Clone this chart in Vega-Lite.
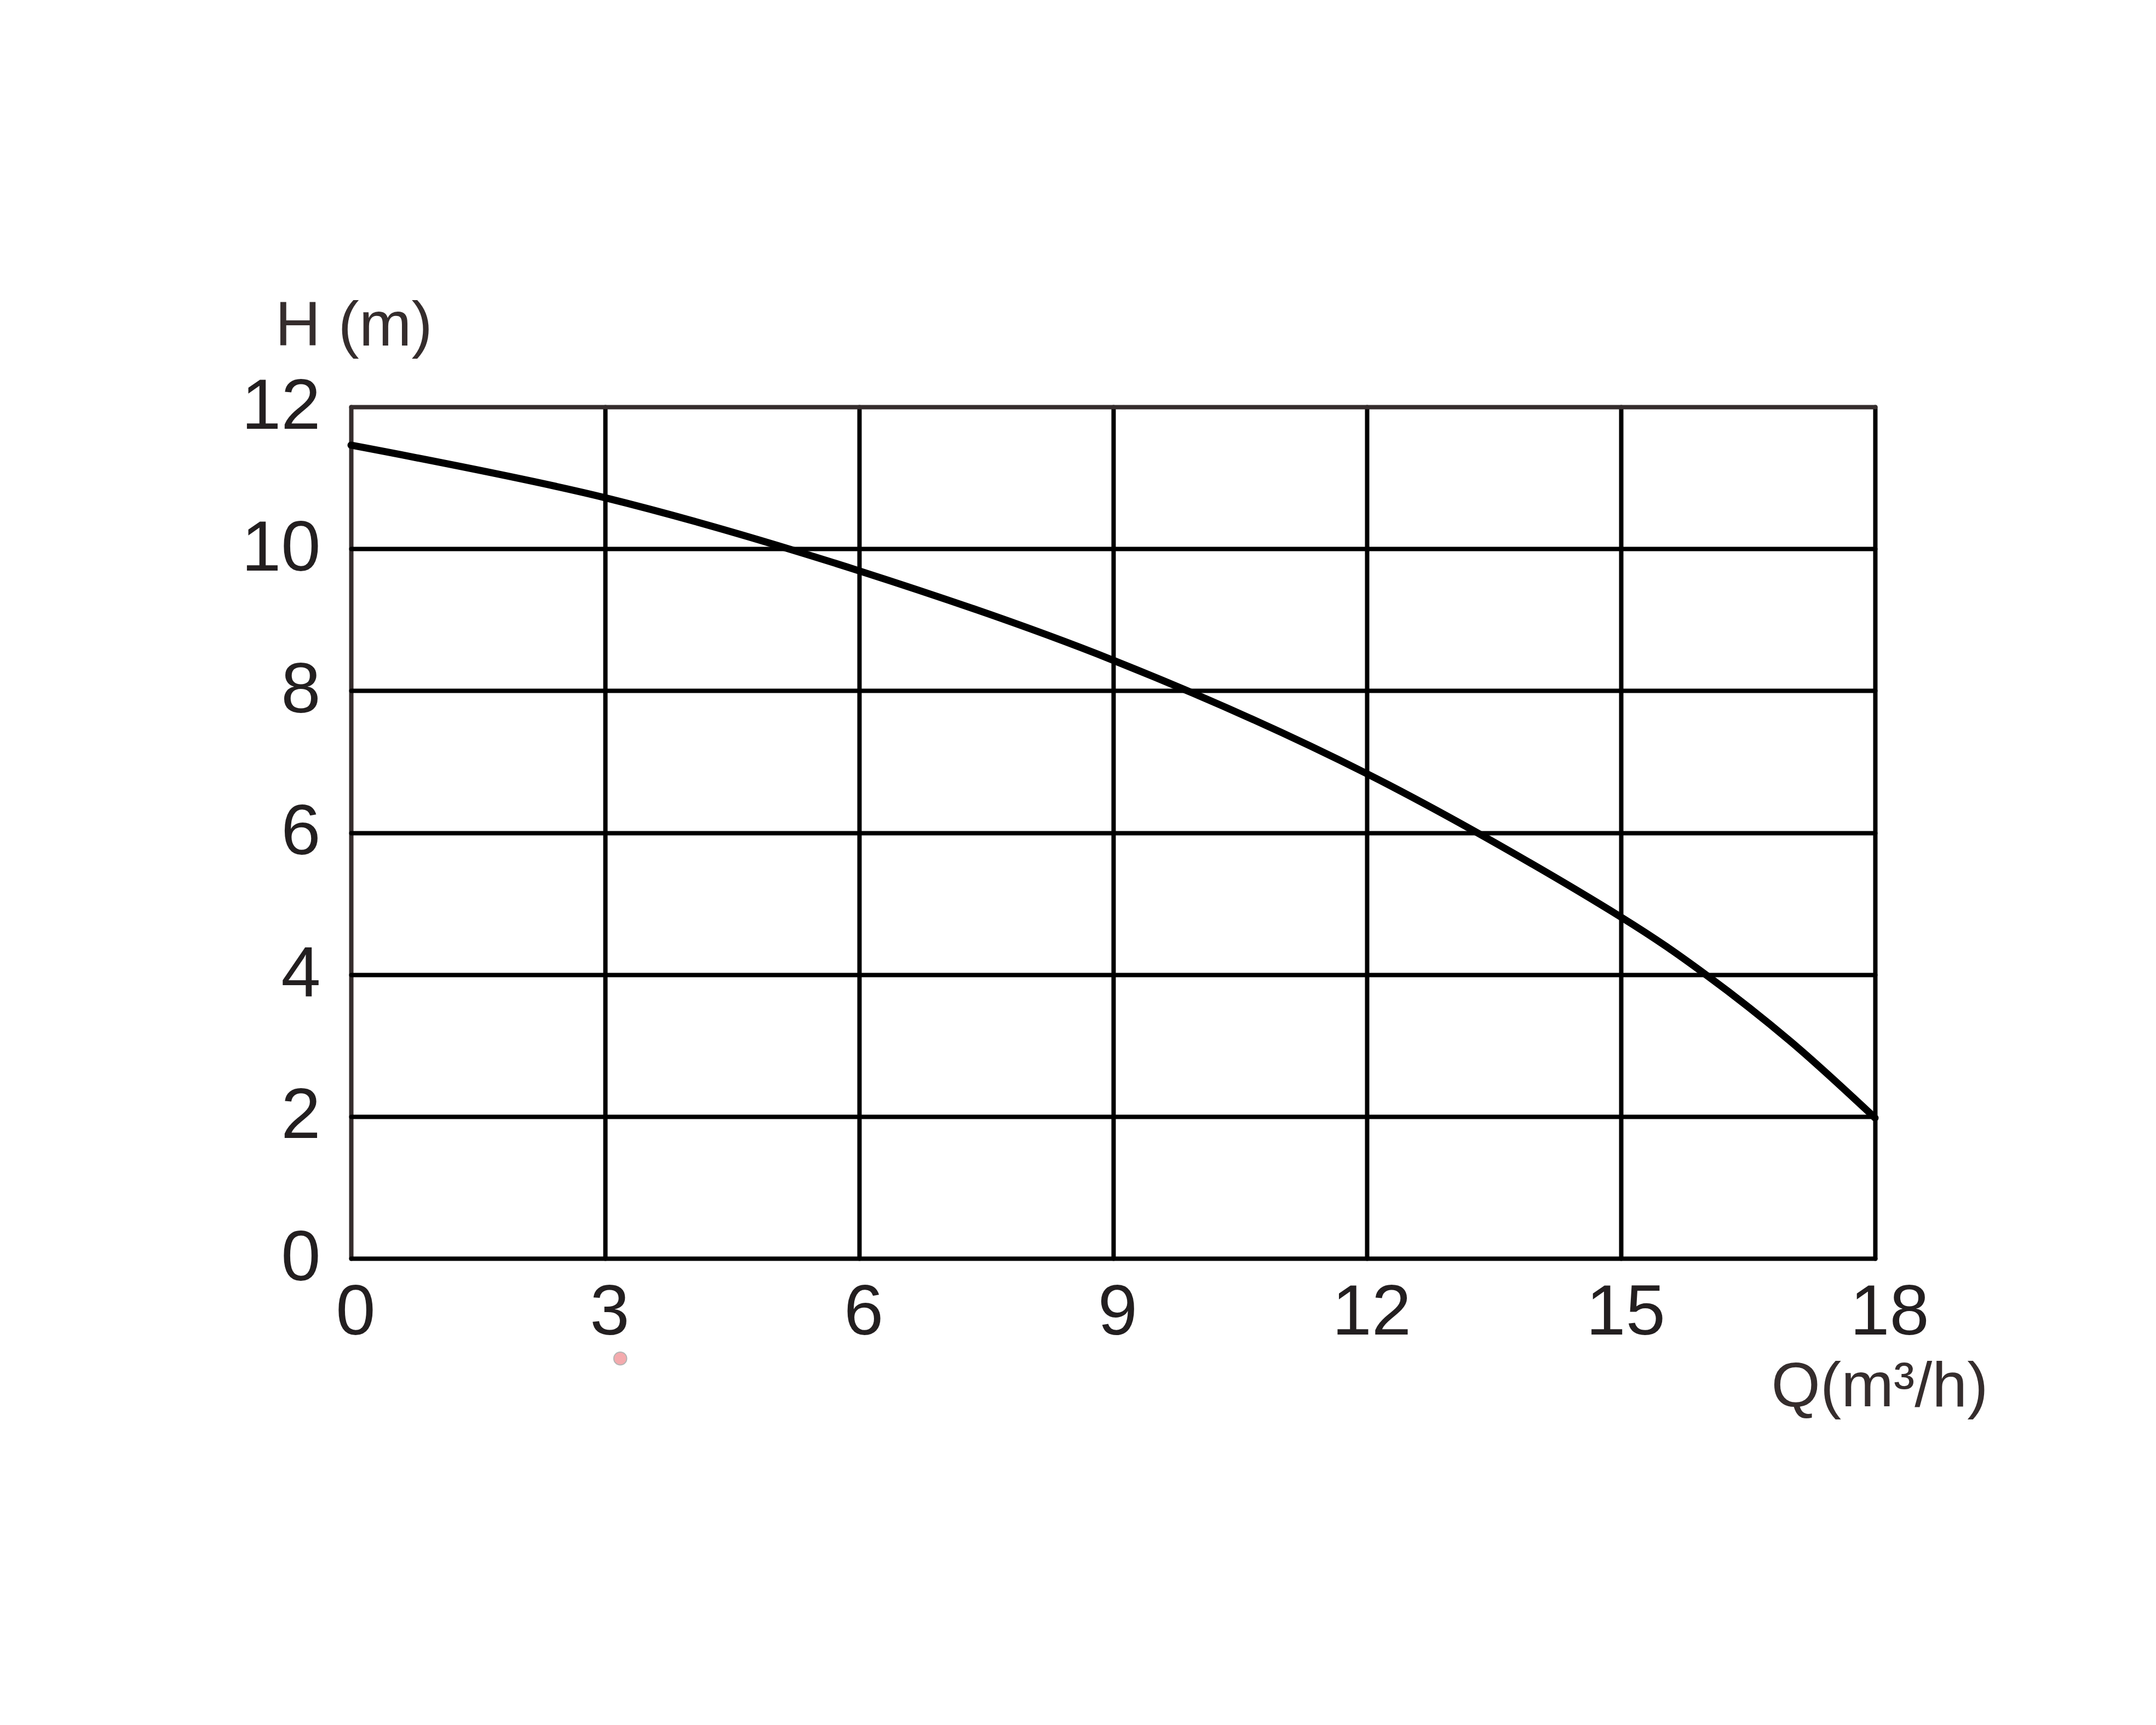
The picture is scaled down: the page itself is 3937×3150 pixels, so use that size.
{
  "$schema": "https://vega.github.io/schema/vega-lite/v6.json",
  "width": 2783,
  "height": 1555,
  "autosize": {"type": "none"},
  "padding": {"left": 641, "top": 743, "right": 513, "bottom": 852},
  "background": "white",
  "config": {"view": {"stroke": null}},
  "layer": [
    {
      "data": {"values": [
        {"Q": 0, "H": 11.46},
        {"Q": 3, "H": 10.72},
        {"Q": 6, "H": 9.69},
        {"Q": 9, "H": 8.43},
        {"Q": 12, "H": 6.83},
        {"Q": 15, "H": 4.81},
        {"Q": 16, "H": 4.0},
        {"Q": 17, "H": 3.06},
        {"Q": 18, "H": 1.98}
      ]},
      "mark": {"type": "line", "color": "#000000", "strokeWidth": 13, "interpolate": "catmull-rom", "strokeCap": "round"},
      "encoding": {
        "x": {
          "field": "Q", "type": "quantitative",
          "scale": {"domain": [0, 18], "nice": false, "zero": false},
          "axis": {
            "values": [0, 3, 6, 9, 12, 15, 18],
            "format": "d",
            "domain": false,
            "ticks": false,
            "grid": true,
            "gridWidth": 8,
            "gridCap": "round",
            "gridOpacity": 1,
            "gridColor": {"condition": {"test": "datum.value === 0", "value": "#352d2d"}, "value": "#000000"},
            "labelFont": "Liberation Sans",
            "labelFontSize": 130,
            "labelColor": "#231f20",
            "labelPadding": 35,
            "labelLimit": 0,
            "labelFlush": false,
            "labelOverlap": false,
            "labelOffset": {"condition": {"test": "datum.value === 18", "value": 26}, "value": 8},
            "title": "Q(m³/h)",
            "titleFont": "Liberation Sans",
            "titleFontSize": 115,
            "titleFontWeight": "normal",
            "titleColor": "#352d2d",
            "titleAlign": "right",
            "titleAnchor": "end",
            "titleBaseline": "alphabetic",
            "titleX": 2989,
            "titleY": 269
          }
        },
        "y": {
          "field": "H", "type": "quantitative",
          "scale": {"domain": [0, 12], "nice": false, "zero": false},
          "axis": {
            "values": [0, 2, 4, 6, 8, 10, 12],
            "format": "d",
            "domain": false,
            "ticks": false,
            "grid": true,
            "gridWidth": 8,
            "gridCap": "round",
            "gridOpacity": 1,
            "gridColor": {"condition": {"test": "datum.value === 12", "value": "#352d2d"}, "value": "#000000"},
            "labelFont": "Liberation Sans",
            "labelFontSize": 130,
            "labelColor": "#231f20",
            "labelPadding": 56,
            "labelLimit": 0,
            "labelFlush": false,
            "labelOverlap": false,
            "title": "H (m)",
            "titleFont": "Liberation Sans",
            "titleFontSize": 115,
            "titleFontWeight": "normal",
            "titleColor": "#352d2d",
            "titleAngle": 0,
            "titleAlign": "left",
            "titleAnchor": "start",
            "titleBaseline": "alphabetic",
            "titleX": -139,
            "titleY": -113
          }
        }
      }
    },
    {
      "data": {"values": [{"Q": 3.18, "H": -1.41}]},
      "mark": {"type": "point", "filled": true, "fill": "#f4aaad", "stroke": "#b4b4b4", "strokeWidth": 2, "size": 560, "opacity": 1, "shape": "circle"},
      "encoding": {
        "x": {"field": "Q", "type": "quantitative"},
        "y": {"field": "H", "type": "quantitative"}
      }
    }
  ]
}
